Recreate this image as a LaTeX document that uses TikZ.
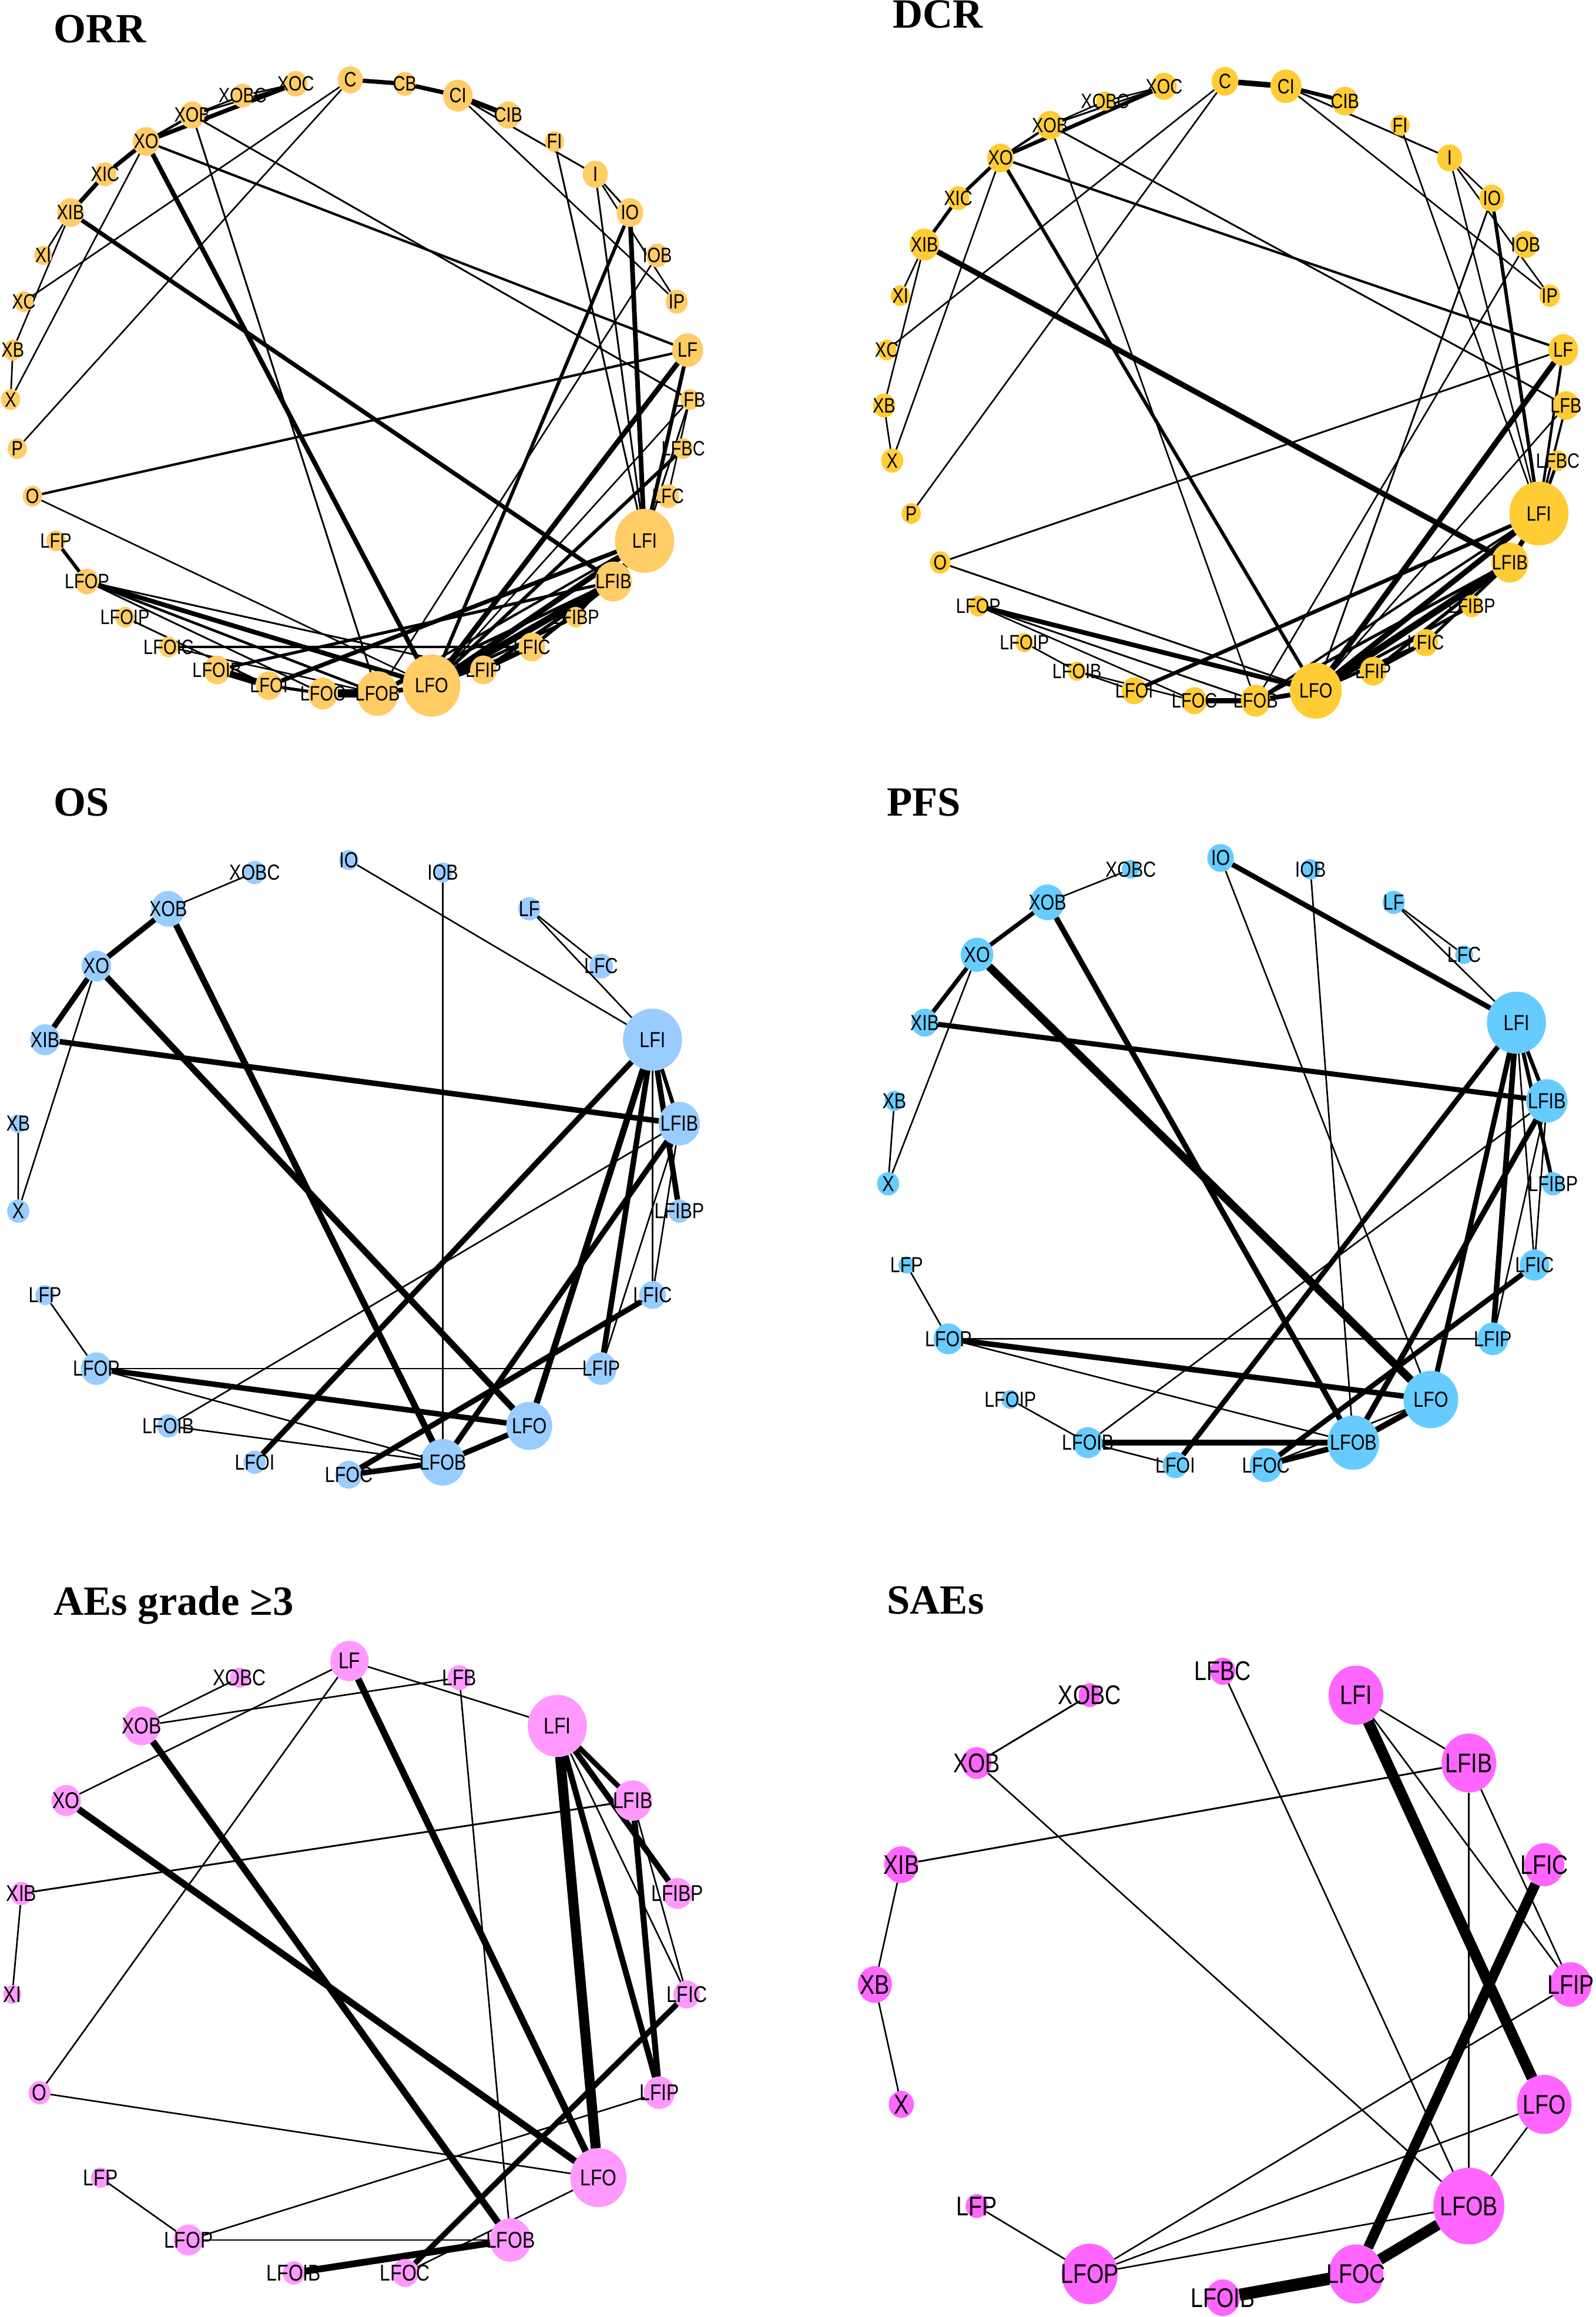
\documentclass[tikz,border=0pt]{standalone}
\usepackage{fontspec}
\setmainfont{Liberation Serif}
\newfontfamily\lblfont[FakeStretch=0.82]{Liberation Sans}
\usetikzlibrary{shapes.geometric}
\pgfdeclarelayer{bg}
\pgfsetlayers{bg,main}

\definecolor{orrcol}{RGB}{255,204,102}
\definecolor{dcrcol}{RGB}{255,204,51}
\definecolor{oscol}{RGB}{153,204,255}
\definecolor{pfscol}{RGB}{102,204,255}
\definecolor{aecol}{RGB}{255,153,255}
\definecolor{saecol}{RGB}{255,102,255}

\tikzset{
  trt/.style={ellipse, fill=#1, inner sep=0pt, outer sep=0pt},
  lbl/.style={font=\lblfont\fontsize{#1}{#1}\selectfont, inner sep=0pt, text=black},
  ttl/.style={font=\bfseries\fontsize{20}{24}\selectfont, anchor=base west, inner sep=0pt},
  lnk/.style={line width={(#1+0.25)*1pt}}
}

\begin{document}
\begin{tikzpicture}[x=0.025cm, y=-0.025cm]
  \def\pxsz{0.025cm}
  \useasboundingbox (0,0) rectangle (1080,1568);

  % titles
  \node[ttl] (ttlorr) at (36,29) {ORR};
  \node[ttl] (ttldcr) at (604,19) {DCR};
  \node[ttl] (ttlos) at (36,552) {OS};
  \node[ttl] (ttlpfs) at (600,552) {PFS};
  \node[ttl] (ttlae) at (36,1093) {AEs grade ≥3};
  \node[ttl] (ttlsae) at (600,1092) {SAEs};

  % ORR
  \foreach \n/\s [count=\k from 0] in {C/17, CB/15, CI/20, CIB/17, FI/13, I/17, IO/18, IOB/15, IP/15, LF/21, LFB/13, LFBC/13, LFC/15, LFI/40, LFIB/25, LFIBP/13, LFIC/18, LFIP/18, LFO/39, LFOB/28, LFOC/20, LFOI/18, LFOIB/18, LFOIC/13, LFOIP/13, LFOP/16, LFP/13, O/13, P/13, X/13, XB/13, XC/13, XI/12, XIB/18, XIC/15, XO/18, XOB/17, XOBC/15, XOC/16}
    \node[trt=orrcol, minimum width=\s*\pxsz, minimum height=1.08*\s*\pxsz, label={[lbl=10]center:\n}] (orr-\n)
      at ({237+230*cos(90-\k*360/39)}, {262-208*sin(90-\k*360/39)}) {};
  \begin{pgfonlayer}{bg}
  \foreach \a/\b/\w in {C/CB/1.8, CB/CI/1.8, CI/CIB/2.2, C/XC/0.5, C/P/0.5, CI/I/0.6, CI/IP/0.5,
      XIB/XIC/1.8, XIC/XO/1.8, XO/XOC/1.8, XO/XOB/1.0, XOB/XOBC/0.6, XOB/XOC/0.6, XOBC/XOC/0.6,
      XIB/XI/0.5, XIB/XB/0.5, XO/X/0.5, XB/X/0.5, XO/LFO/2.0, XOB/LFOB/0.6, XO/LF/0.9, XOB/LFB/0.6,
      XIB/LFIB/1.8, FI/LFI/0.6, I/LFI/0.6, I/IO/0.6, I/IP/0.5, IO/LFI/2.0, IO/LFO/1.4, IOB/LFOB/0.5,
      O/LF/0.9, O/LFO/0.5, LF/LFO/2.2, LF/LFI/1.6, LFBC/LFO/1.4, LFB/LFO/0.5, LFB/LFC/0.5, LFB/LFI/0.6,
      LFP/LFOP/1.4, LFOP/LFO/2.0, LFOP/LFOB/1.0, LFOP/LFOC/0.6, LFOP/LFIP/0.6, LFOIP/LFOI/0.6,
      LFOIC/LFIC/0.9, LFOIC/LFOB/0.5, LFOIB/LFOI/3.0, LFOI/LFOC/1.2, LFOC/LFOB/3.6, LFOB/LFO/2.0,
      LFOIB/LFIB/1.2, LFOI/LFI/1.8, LFI/LFO/2.4, LFIB/LFO/3.0, LFI/LFIB/2.2, LFIB/LFIP/1.4,
      LFIB/LFIC/1.4, LFIBP/LFO/1.2, LFIC/LFO/1.4, LFIC/LFIP/1.6, LFI/LFIBP/0.6, LFIB/LFOB/1.2, LFI/LFOB/0.9}
    \draw[lnk=\w] (orr-\a) -- (orr-\b);
  \end{pgfonlayer}

  % DCR
  \foreach \n/\s [count=\k from 0] in {C/18, CI/21, CIB/18, FI/13, I/17, IO/17, IOB/17, IP/14, LF/20, LFB/18, LFBC/13, LFI/40, LFIB/25, LFIBP/14, LFIC/17, LFIP/18, LFO/35, LFOB/20, LFOC/17, LFOI/17, LFOIB/12, LFOIP/12, LFOP/13, O/14, P/13, X/15, XB/15, XC/13, XI/13, XIB/20, XIC/15, XO/18, XOB/18, XOBC/12, XOC/17}
    \node[trt=dcrcol, minimum width=\s*\pxsz, minimum height=1.08*\s*\pxsz, label={[lbl=10]center:\n}] (dcr-\n)
      at ({829+231*cos(90-\k*360/35)}, {265-210*sin(90-\k*360/35)}) {};
  \begin{pgfonlayer}{bg}
  \foreach \a/\b/\w in {C/CI/2.4, CI/CIB/1.6, CI/I/0.6, CI/IP/0.5, C/XC/0.5, C/P/0.5,
      XIB/XIC/1.4, XIC/XO/1.4, XO/XOC/1.6, XO/XOB/0.9, XOB/XOBC/0.5, XOB/XOC/0.6, XOBC/XOC/0.5,
      XO/LFO/1.4, XOB/LFOB/0.5, XO/LF/0.9, XOB/LFB/0.6, XIB/LFIB/2.4, XIB/XI/0.5, XIB/XB/0.5,
      XO/X/0.5, XB/X/0.5, FI/LFI/0.5, I/LFI/0.5, I/IO/0.5, I/IP/0.5, IO/LFI/1.4, IO/LFO/0.6,
      IOB/LFOB/0.5, O/LF/0.6, O/LFO/0.6, LF/LFO/2.4, LF/LFI/1.0, LFB/LFI/0.8, LFB/LFO/0.5,
      LFBC/LFI/1.2, LFOP/LFO/2.0, LFOP/LFOB/0.6, LFOP/LFOC/0.5, LFOIP/LFOIB/0.5, LFOIB/LFOI/0.5,
      LFOIB/LFOC/0.5, LFOC/LFOB/2.4, LFOB/LFO/2.0, LFOI/LFI/1.6, LFI/LFO/2.4, LFIB/LFO/3.0,
      LFI/LFIB/2.0, LFIB/LFIP/1.4, LFIB/LFIC/1.2, LFIBP/LFO/1.2, LFIC/LFO/1.4, LFIC/LFIP/1.2,
      LFI/LFOB/0.9, LFIB/LFOB/1.2}
    \draw[lnk=\w] (dcr-\a) -- (dcr-\b);
  \end{pgfonlayer}

  % OS
  \foreach \n/\s [count=\k from 0] in {IO/13, IOB/13, LF/15, LFC/16, LFI/40, LFIB/28, LFIBP/15, LFIC/18, LFIP/21, LFO/31, LFOB/30, LFOC/18, LFOI/15, LFOIB/15, LFOP/21, LFP/13, X/15, XB/12, XIB/20, XO/20, XOB/23, XOBC/15}
    \node[trt=oscol, minimum width=\s*\pxsz, minimum height=1.05*\s*\pxsz, label={[lbl=10.5]center:\n}] (os-\n)
      at ({236+226*cos(90-\k*360/22)}, {790-208*sin(90-\k*360/22)}) {};
  \begin{pgfonlayer}{bg}
  \foreach \a/\b/\w in {XOB/XOBC/0.5, IO/LFI/0.5, IOB/LFOB/0.5, LF/LFC/0.5, LF/LFI/0.5,
      XIB/XO/2.4, XO/XOB/2.4, XOB/LFOB/2.8, XO/LFO/2.8, XIB/LFIB/2.4, XB/X/0.5, XO/X/0.5,
      LFP/LFOP/0.5, LFOP/LFIP/0.5, LFOP/LFO/2.4, LFOP/LFOB/0.5, LFOIB/LFOB/0.5, LFOIB/LFIB/0.5,
      LFOI/LFI/2.4, LFOC/LFOB/2.4, LFOC/LFIC/2.4, LFOB/LFO/2.4, LFI/LFO/2.8, LFI/LFIP/2.4,
      LFI/LFIB/1.6, LFI/LFIBP/2.4, LFI/LFIC/0.5, LFIB/LFIC/0.5, LFIB/LFIP/0.5, LFIB/LFOB/2.4}
    \draw[lnk=\w] (os-\a) -- (os-\b);
  \end{pgfonlayer}

  % PFS
  \foreach \n/\s [count=\k from 0] in {IO/18, IOB/13, LF/15, LFC/12, LFI/40, LFIB/28, LFIBP/15, LFIC/20, LFIP/21, LFO/37, LFOB/35, LFOC/22, LFOI/17, LFOIB/20, LFOIP/12, LFOP/20, LFP/11, X/15, XB/13, XIB/18, XO/22, XOB/23, XOBC/12}
    \node[trt=pfscol, minimum width=\s*\pxsz, minimum height=1.05*\s*\pxsz, label={[lbl=10.5]center:\n}] (pfs-\n)
      at ({826+225.5*cos(90-\k*360/23)}, {787-206.4*sin(90-\k*360/23)}) {};
  \begin{pgfonlayer}{bg}
  \foreach \a/\b/\w in {XOB/XOBC/0.5, XOB/XO/1.8, XO/XIB/1.8, XO/X/0.5, XB/X/0.5, IO/LFI/2.2,
      IO/LFO/0.5, IOB/LFOB/0.5, LF/LFC/0.5, LF/LFI/0.5, XOB/LFOB/2.4, XO/LFO/3.6, XIB/LFIB/2.2,
      LFP/LFOP/0.5, LFOP/LFIP/0.5, LFOP/LFO/2.4, LFOP/LFOB/0.5, LFOIP/LFOIB/0.5, LFOIB/LFOI/0.5,
      LFOIB/LFOB/2.6, LFOIB/LFIB/0.5, LFOI/LFI/2.2, LFOC/LFOB/2.4, LFOC/LFIC/2.2, LFOC/LFO/0.5,
      LFOB/LFO/2.6, LFI/LFO/2.2, LFI/LFIP/2.4, LFI/LFIB/1.6, LFI/LFIBP/1.6, LFI/LFIC/0.5,
      LFIB/LFIC/0.5, LFIB/LFIP/0.5, LFIB/LFOB/2.4}
    \draw[lnk=\w] (pfs-\a) -- (pfs-\b);
  \end{pgfonlayer}

  % AEs grade >= 3
  \foreach \n/\s [count=\k from 0] in {LF/26, LFB/16, LFI/40, LFIB/26, LFIBP/20, LFIC/18, LFIP/21, LFO/38, LFOB/28, LFOC/18, LFOIB/15, LFOP/20, LFP/13, O/15, XI/12, XIB/15, XO/20, XOB/25, XOBC/13}
    \node[trt=aecol, minimum width=\s*\pxsz, minimum height=1.05*\s*\pxsz, label={[lbl=11]center:\n}] (ae-\n)
      at ({236.5+229*cos(90-\k*360/19)}, {1332.5-208.5*sin(90-\k*360/19)}) {};
  \begin{pgfonlayer}{bg}
  \foreach \a/\b/\w in {XOB/XOBC/0.5, XOB/LFB/0.5, XO/LF/0.5, LF/LFI/0.5, LF/LFO/3.0, LF/O/0.5,
      XOB/LFOB/3.0, XO/LFO/3.0, XIB/LFIB/0.6, XIB/XI/0.5, LFB/LFOB/0.5, LFI/LFO/4.6, LFI/LFIP/2.6,
      LFI/LFIB/2.2, LFI/LFIBP/2.6, LFIB/LFIP/2.6, LFI/LFIC/0.5, LFIB/LFIC/0.5, LFIC/LFOC/2.4,
      LFIP/LFOP/0.5, O/LFO/0.5, LFO/LFOC/0.5, LFP/LFOP/0.5, LFOP/LFOB/0.5, LFOIB/LFOB/3.0}
    \draw[lnk=\w] (ae-\a) -- (ae-\b);
  \end{pgfonlayer}

  % SAEs
  \foreach \n/\s [count=\k from 0] in {LFBC/17, LFI/37, LFIB/37, LFIC/27, LFIP/28, LFO/37, LFOB/48, LFOC/37, LFOIB/23, LFOP/38, LFP/15, X/17, XB/23, XIB/23, XOB/20, XOBC/15}
    \node[trt=saecol, minimum width=\s*\pxsz, minimum height=1.08*\s*\pxsz, label={[lbl=13]center:\n}] (sae-\n)
      at ({827.5+235.5*cos(90-\k*360/16)}, {1343-212*sin(90-\k*360/16)}) {};
  \begin{pgfonlayer}{bg}
  \foreach \a/\b/\w in {XOB/XOBC/0.6, XOB/LFOB/0.5, XIB/LFIB/0.6, XIB/XB/0.5, XB/X/0.5,
      LFBC/LFOB/0.5, LFI/LFIB/0.5, LFI/LFIP/0.5, LFI/LFO/5.0, LFIB/LFOB/0.5, LFIB/LFIP/0.5,
      LFIC/LFOC/4.6, LFIP/LFOP/0.5, LFO/LFOP/0.5, LFO/LFOB/0.5, LFOB/LFOP/0.5, LFOB/LFOC/5.0,
      LFOC/LFOIB/5.6, LFP/LFOP/0.5}
    \draw[lnk=\w] (sae-\a) -- (sae-\b);
  \end{pgfonlayer}
\end{tikzpicture}
\end{document}
